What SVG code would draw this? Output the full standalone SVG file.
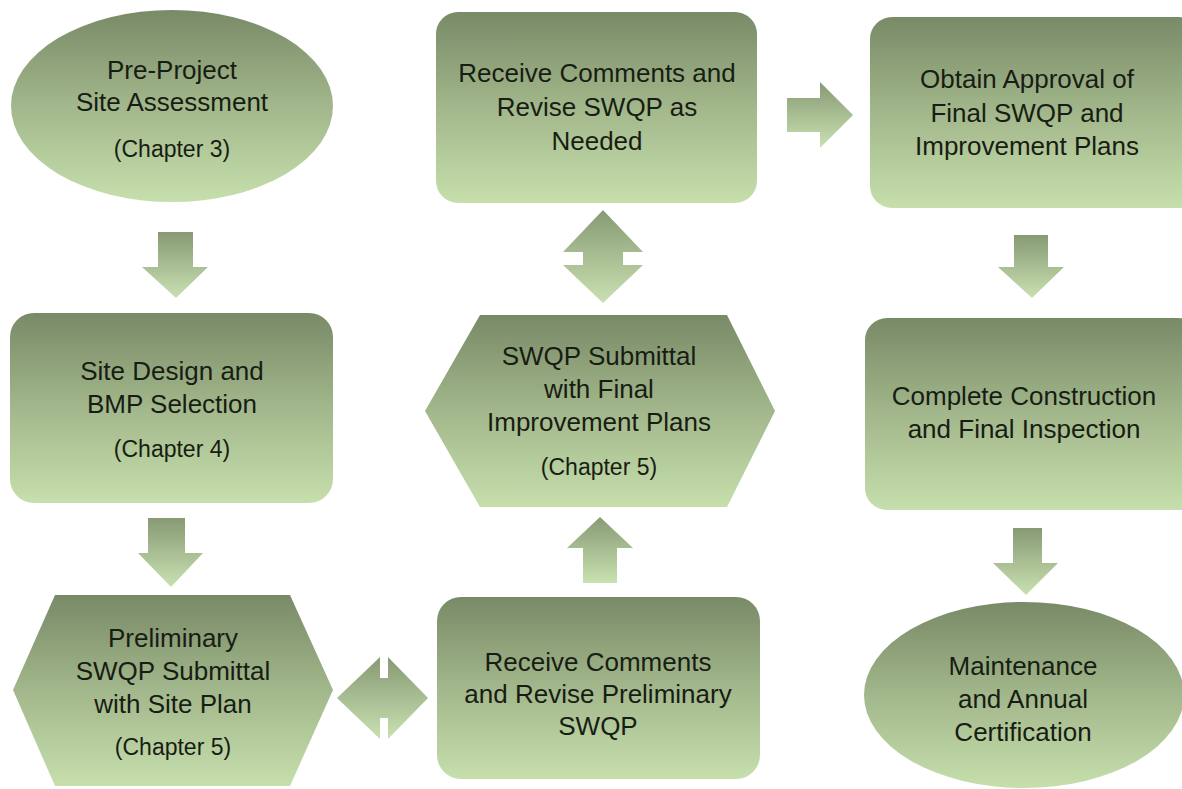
<svg xmlns="http://www.w3.org/2000/svg" width="1182" height="789" viewBox="0 0 1182 789">
  <defs>
    <linearGradient id="gNode" x1="0" y1="0" x2="0" y2="1">
      <stop offset="0" stop-color="#798a67"/>
      <stop offset="0.5" stop-color="#a2b78b"/>
      <stop offset="1" stop-color="#c6dfac"/>
    </linearGradient>
    <linearGradient id="gArrow" x1="0" y1="0" x2="0" y2="1">
      <stop offset="0" stop-color="#879a74"/>
      <stop offset="1" stop-color="#c9e1b1"/>
    </linearGradient>
    <style>
      .node { fill: url(#gNode); }
      .arrow { fill: url(#gArrow); }
      .t { font-family: "Liberation Sans", Arial, sans-serif; font-size: 26px; fill: #181d13; text-anchor: middle; }
      .c { font-family: "Liberation Sans", Arial, sans-serif; font-size: 23px; fill: #181d13; text-anchor: middle; }
    </style>
  </defs>
  <rect width="1182" height="789" fill="#ffffff"/>

  <g id="connectors">
    <polygon class="arrow" points="158,232 193,232 193,267 208,267 176,298 142,267 158,267"/>
    <polygon class="arrow" points="148,518 185,518 185,553 203,553 171,587 138,553 148,553"/>
    <polygon class="arrow" points="337,698 380,657 380,678 388,678 388,657 428,698 388,739 388,718 380,718 380,739"/>
    <polygon class="arrow" points="600,517 633,548 617,548 617,583 583,583 583,548 567,548"/>
    <polygon class="arrow" points="603,210 643,252 623,252 623,265 643,265 603,303 563,265 583,265 583,252 563,252"/>
    <polygon class="arrow" points="787,98 820,98 820,82 853,115 820,148 820,132 787,132"/>
    <polygon class="arrow" points="1014,235 1048,235 1048,267 1064,267 1032,298 998,267 1014,267"/>
    <polygon class="arrow" points="1013,528 1042,528 1042,563 1058,563 1026,595 993,563 1013,563"/>
  </g>

  <g id="node-preproject">
    <ellipse class="node" cx="172" cy="106" rx="161" ry="96"/>
    <text class="t" x="172" y="79">Pre-Project</text>
    <text class="t" x="172" y="111">Site Assessment</text>
    <text class="c" x="172" y="157">(Chapter 3)</text>
  </g>

  <g id="node-sitedesign">
    <rect class="node" x="10" y="313" width="323" height="190" rx="24"/>
    <text class="t" x="172" y="380">Site Design and</text>
    <text class="t" x="172" y="413">BMP Selection</text>
    <text class="c" x="172" y="457">(Chapter 4)</text>
  </g>

  <g id="node-preliminary">
    <polygon class="node" points="55,595 290,595 333,690 290,786 55,786 13,690"/>
    <text class="t" x="173" y="647">Preliminary</text>
    <text class="t" x="173" y="680">SWQP Submittal</text>
    <text class="t" x="173" y="713">with Site Plan</text>
    <text class="c" x="173" y="755">(Chapter 5)</text>
  </g>

  <g id="node-receive-prelim">
    <rect class="node" x="437" y="597" width="323" height="182" rx="24"/>
    <text class="t" x="598" y="671">Receive Comments</text>
    <text class="t" x="598" y="703">and Revise Preliminary</text>
    <text class="t" x="598" y="735">SWQP</text>
  </g>

  <g id="node-swqp-final">
    <polygon class="node" points="480,315 727,315 775,411 727,507 480,507 425,411"/>
    <text class="t" x="599" y="365">SWQP Submittal</text>
    <text class="t" x="599" y="398">with Final</text>
    <text class="t" x="599" y="431">Improvement Plans</text>
    <text class="c" x="599" y="475">(Chapter 5)</text>
  </g>

  <g id="node-receive-final">
    <rect class="node" x="436" y="12" width="321" height="191" rx="22"/>
    <text class="t" x="597" y="82">Receive Comments and</text>
    <text class="t" x="597" y="116">Revise SWQP as</text>
    <text class="t" x="597" y="150">Needed</text>
  </g>

  <g id="node-approval">
    <rect class="node" x="870" y="17" width="330" height="191" rx="22"/>
    <text class="t" x="1027" y="88">Obtain Approval of</text>
    <text class="t" x="1027" y="122">Final SWQP and</text>
    <text class="t" x="1027" y="155">Improvement Plans</text>
  </g>

  <g id="node-construction">
    <rect class="node" x="865" y="318" width="335" height="192" rx="22"/>
    <text class="t" x="1024" y="405">Complete Construction</text>
    <text class="t" x="1024" y="438">and Final Inspection</text>
  </g>

  <g id="node-maintenance">
    <ellipse class="node" cx="1024" cy="695" rx="160" ry="93"/>
    <text class="t" x="1023" y="675">Maintenance</text>
    <text class="t" x="1023" y="708">and Annual</text>
    <text class="t" x="1023" y="741">Certification</text>
  </g>
</svg>
